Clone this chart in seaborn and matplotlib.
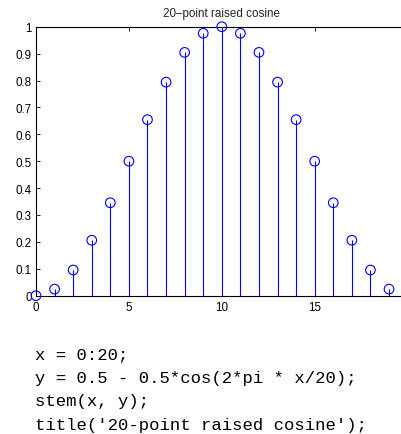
import matplotlib
matplotlib.use("Agg")
import matplotlib.pyplot as plt
import seaborn as sns
import pandas as pd

# data
x_vals = list(range(21))
y_vals = [0.0, 0.0245, 0.0955, 0.2061, 0.3455, 0.5, 0.6545, 0.7939, 0.9045, 0.9755,
          1.0, 0.9755, 0.9045, 0.7939, 0.6545, 0.5, 0.3455, 0.2061, 0.0955, 0.0245, 0.0]
x_ticks = [0, 5, 10, 15, 20]
y_ticks = [0, 0.1, 0.2, 0.3, 0.4, 0.5, 0.6, 0.7, 0.8, 0.9, 1]
y_tick_labels = ["0", "0.1", "0.2", "0.3", "0.4", "0.5", "0.6", "0.7", "0.8", "0.9", "1"]
title_text = "20\u2013point raised cosine"
code_lines = ["x = 0:20;",
              "y = 0.5 - 0.5*cos(2*pi * x/20);",
              "stem(x, y);",
              "title('20-point raised cosine');"]

sns.set_style("white")
plt.rcParams["font.family"] = ["Liberation Sans", "DejaVu Sans"]

df = pd.DataFrame({"x": x_vals, "y": y_vals})

W, H = 401, 435
fig = plt.figure(figsize=(W / 100, H / 100), dpi=100)
fig.patch.set_facecolor("white")
ax = fig.add_axes([36 / W, (H - 296.7) / H, (407.6 - 36) / W, 269 / H])

ax.vlines(df["x"], 0, df["y"], colors="#0000ff", linewidth=0.8)
sns.scatterplot(data=df, x="x", y="y", ax=ax, marker="o", s=48,
                facecolor="none", edgecolor="#0000ff", linewidth=0.8,
                clip_on=False, zorder=3)

ax.set_xlim(0, 20)
ax.set_ylim(0, 1)
ax.set_xticks(x_ticks)
ax.set_xticklabels([str(v) for v in x_ticks])
ax.set_yticks(y_ticks)
ax.set_yticklabels(y_tick_labels)
ax.set_xlabel("")
ax.set_ylabel("")
ax.tick_params(direction="in", length=3, width=0.6, color="black",
               labelsize=8.4, labelcolor="black", top=True, right=True,
               bottom=True, left=True)
ax.tick_params(axis="x", pad=4)
ax.tick_params(axis="y", pad=3)
for sp in ax.spines.values():
    sp.set_visible(True)
    sp.set_color("black")
    sp.set_linewidth(0.8)
ax.set_title(title_text, fontsize=8.4, pad=7.5)

baselines = [359.3, 382.8, 406.2, 429.6]
for line, yb in zip(code_lines, baselines):
    fig.text(35 / W, 1 - yb / H, line, family=["Liberation Mono", "DejaVu Sans Mono"],
             fontsize=12.4, va="baseline", ha="left", color="black")

fig.savefig("out.png", dpi=100, facecolor="white")
